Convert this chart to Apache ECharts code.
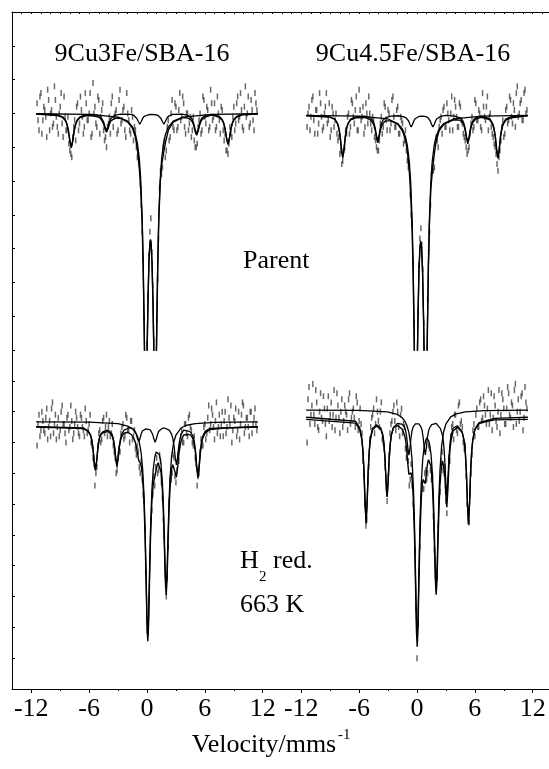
<!DOCTYPE html>
<html><head><meta charset="utf-8">
<script src="https://cdn.jsdelivr.net/npm/echarts@6/dist/echarts.min.js"></script>
<style>html,body{margin:0;padding:0;background:#fff}#c{width:549px;height:769px}</style>
</head><body><div id="c"></div><script>
const FONT = '"Liberation Serif","Times New Roman",serif';

// velocity channels (mm/s): even and odd sets
const channelVelocity = [-11.4,-11.2,-11.0,-10.8,-10.6,-10.4,-10.2,-10.0,-9.8,-9.6,-9.4,-9.2,-9.0,-8.8,-8.6,-8.4,-8.2,-8.0,-7.8,-7.6,-7.4,-7.2,-7.0,-6.8,-6.6,-6.4,-6.2,-6.0,-5.8,-5.6,-5.4,-5.2,-5.0,-4.8,-4.6,-4.4,-4.2,-4.0,-3.8,-3.6,-3.4,-3.2,-3.0,-2.8,-2.6,-2.4,-2.2,-2.0,-1.8,-1.6,-1.4,-1.2,-1.0,-0.8,-0.6,-0.4,-0.2,0.0,0.2,0.4,0.6,0.8,1.0,1.2,1.4,1.6,1.8,2.0,2.2,2.4,2.6,2.8,3.0,3.2,3.4,3.6,3.8,4.0,4.2,4.4,4.6,4.8,5.0,5.2,5.4,5.6,5.8,6.0,6.2,6.4,6.6,6.8,7.0,7.2,7.4,7.6,7.8,8.0,8.2,8.4,8.6,8.8,9.0,9.2,9.4,9.6,9.8,10.0,10.2,10.4,10.6,10.8,11.0,11.2,11.4];
const channelVelocityOdd = [-11.3,-11.1,-10.9,-10.7,-10.5,-10.3,-10.1,-9.9,-9.7,-9.5,-9.3,-9.1,-8.9,-8.7,-8.5,-8.3,-8.1,-7.9,-7.7,-7.5,-7.3,-7.1,-6.9,-6.7,-6.5,-6.3,-6.1,-5.9,-5.7,-5.5,-5.3,-5.1,-4.9,-4.7,-4.5,-4.3,-4.1,-3.9,-3.7,-3.5,-3.3,-3.1,-2.9,-2.7,-2.5,-2.3,-2.1,-1.9,-1.7,-1.5,-1.3,-1.1,-0.9,-0.7,-0.5,-0.3,-0.1,0.1,0.3,0.5,0.7,0.9,1.1,1.3,1.5,1.7,1.9,2.1,2.3,2.5,2.7,2.9,3.1,3.3,3.5,3.7,3.9,4.1,4.3,4.5,4.7,4.9,5.1,5.3,5.5,5.7,5.9,6.1,6.3,6.5,6.7,6.9,7.1,7.3,7.5,7.7,7.9,8.1,8.3,8.5,8.7,8.9,9.1,9.3,9.5,9.7,9.9,10.1,10.3,10.5,10.7,10.9,11.1,11.3];

// measured transmission (arbitrary units)
const ulCounts = [7.3,6.5,7.6,6.8,7.1,6.3,7.4,7.0,6.6,7.8,6.9,6.4,7.2,6.7,7.5,6.5,6.9,5.9,5.7,6.6,6.2,7.3,6.7,7.1,6.4,7.6,6.8,7.0,6.3,7.9,7.2,6.6,7.4,6.9,7.3,6.2,6.0,6.7,6.4,7.5,6.9,7.1,6.5,7.7,6.8,7.2,6.3,7.0,6.5,7.1,6.2,6.5,5.7,5.5,4.3,2.7,-0.5,0.2,2.8,3.9,1.9,-0.4,0.9,3.3,5.3,5.4,6.2,5.9,6.8,6.3,7.4,6.5,7.2,6.6,7.6,6.9,7.3,6.4,7.0,6.7,6.3,6.9,6.0,6.1,6.8,6.4,7.5,6.9,7.2,6.5,7.7,6.8,7.3,6.6,7.0,6.4,7.1,6.2,5.9,5.8,6.6,6.3,7.2,6.7,7.5,6.9,7.1,6.5,7.8,7.0,6.6,7.4,6.8,7.6,7.1];
const ulCountsOdd = [6.8,7.5,6.4,7.2,6.9,7.7,6.5,7.1,6.7,7.4,6.6,7.0,7.6,6.3,6.9,6.5,6.1,5.8,6.3,6.8,7.2,6.5,7.5,6.9,6.6,7.3,6.8,7.6,6.4,7.0,6.7,7.5,6.4,7.1,6.5,6.3,6.6,6.9,7.3,6.6,7.0,6.4,7.4,6.7,7.1,6.5,7.6,6.8,6.4,6.9,6.6,6.0,5.8,4.9,3.5,1.0,-1.0,1.6,3.5,2.9,0.3,-1.0,2.1,4.8,5.2,6.0,5.7,6.6,6.2,7.0,6.6,7.3,6.5,7.1,6.8,7.5,6.6,7.0,6.5,6.9,6.5,6.2,6.0,6.6,7.0,6.5,7.4,6.7,7.1,6.6,7.3,6.9,6.5,7.5,6.8,7.2,6.5,6.4,5.9,6.1,6.4,6.9,6.5,7.3,6.8,7.6,6.6,7.2,6.9,7.5,6.7,7.1,6.5,7.3];
const urCounts = [6.6,7.2,6.9,7.5,6.4,7.1,6.7,7.3,6.5,7.0,7.6,6.8,6.3,7.2,6.6,7.0,6.2,5.8,5.5,5.9,6.5,6.9,6.4,7.4,6.9,7.1,6.5,7.7,6.8,7.2,6.6,7.0,7.5,6.7,6.9,6.3,6.0,5.9,6.7,6.4,7.3,6.8,7.1,6.5,7.4,6.9,6.6,7.2,6.4,6.8,6.1,6.5,5.6,5.5,4.0,2.6,-0.8,-0.5,2.5,3.6,2.4,-0.3,-0.4,2.9,4.3,5.4,5.4,6.3,6.0,6.8,6.4,7.2,6.6,7.0,6.5,7.5,6.9,7.2,6.6,7.3,6.8,6.4,6.2,5.8,6.0,6.7,6.5,7.4,6.8,7.1,6.6,7.6,6.9,7.2,6.5,7.0,6.4,6.1,5.8,5.3,5.9,6.6,6.3,7.1,6.7,7.5,6.9,7.3,6.6,7.8,7.0,7.4,6.8,7.7,7.1];
const urCountsOdd = [7.0,6.5,7.4,6.8,7.1,6.4,7.6,6.9,6.6,7.2,6.7,7.3,6.5,7.0,6.8,6.4,6.3,5.9,5.6,6.0,6.4,7.0,6.6,7.3,6.7,7.5,6.5,7.1,6.9,6.4,7.3,6.7,7.0,6.5,6.8,6.2,5.9,6.2,6.9,6.6,7.2,6.5,7.0,6.7,7.5,6.6,7.1,6.4,6.9,6.7,6.2,5.9,5.4,4.6,3.7,0.8,-1.5,1.1,3.3,3.1,0.8,-1.5,1.5,3.5,5.2,5.3,6.1,6.2,6.6,6.9,7.1,6.6,7.3,6.8,7.0,6.5,7.4,6.9,6.6,7.2,6.7,6.3,6.0,5.9,6.4,6.9,6.6,7.3,6.8,7.0,6.5,7.2,6.8,7.5,6.9,6.6,6.3,6.0,5.5,5.7,6.2,6.8,6.4,7.2,6.8,7.4,6.7,7.1,7.6,6.9,7.3,6.8,7.6,7.0];
const llCounts = [7.9,8.9,8.4,8.7,8.3,9.1,8.5,8.2,9.3,8.6,8.1,8.8,8.4,9.2,8.6,8.0,8.9,8.5,8.7,8.3,9.0,8.5,8.2,8.8,8.4,9.1,8.3,8.6,8.0,7.5,6.6,7.2,8.3,8.0,8.7,8.3,8.9,8.5,8.2,8.6,7.7,7.0,7.6,7.7,8.5,8.1,8.9,8.4,8.0,8.7,8.2,7.8,7.9,7.2,7.4,6.3,5.2,1.9,2.9,5.5,6.3,6.6,7.5,7.1,7.4,6.2,4.9,3.0,4.6,6.8,7.0,7.5,6.7,7.6,7.9,8.4,8.0,8.6,8.2,8.9,8.4,7.9,7.5,6.6,7.0,8.1,7.9,8.6,8.3,9.2,8.6,8.9,8.1,9.3,8.5,8.2,9.0,8.7,8.3,9.4,8.6,8.0,8.8,9.1,8.4,8.1,8.9,9.2,8.5,8.8,8.2,9.0,8.6,9.1,8.4];
const llCountsOdd = [8.6,8.2,9.0,8.4,8.8,8.1,8.7,9.1,8.3,8.9,8.5,8.2,9.0,8.6,8.3,8.8,8.4,9.2,8.1,8.6,8.8,8.3,8.9,8.5,8.2,8.7,8.4,8.9,7.9,7.3,7.0,7.9,8.4,8.1,8.8,8.5,8.2,8.7,8.3,7.9,7.5,7.1,7.8,8.3,8.6,8.2,8.8,8.4,8.7,8.1,8.4,7.6,7.7,7.0,6.8,6.1,3.8,1.8,4.3,5.8,6.9,7.2,7.0,7.6,6.7,5.5,3.7,3.6,6.1,6.8,7.6,6.9,7.1,7.4,8.2,8.0,8.6,8.3,8.8,8.5,8.0,8.2,7.3,6.9,7.7,7.9,8.5,8.1,8.8,8.4,9.1,8.5,8.7,8.3,8.9,8.6,8.2,9.0,8.5,8.8,9.2,8.4,8.7,8.2,9.0,8.6,9.3,8.3,8.8,8.5,9.0,8.3,8.8,8.6];
const lrCounts = [8.0,9.8,8.9,9.9,8.6,9.3,8.4,9.6,8.7,9.1,8.2,9.5,8.9,8.5,9.7,8.8,9.2,8.3,9.4,8.7,9.0,8.4,9.6,8.8,9.1,8.5,9.3,8.7,8.6,7.4,6.0,5.5,7.2,8.5,8.9,8.3,9.4,8.7,9.0,8.1,7.8,6.5,6.9,8.3,8.7,9.2,8.4,9.0,8.2,9.1,8.6,7.8,7.7,6.6,7.3,6.0,4.5,1.0,3.8,6.2,6.5,7.0,6.8,7.9,7.1,6.9,4.5,3.3,5.3,6.4,7.7,7.0,6.1,6.8,7.4,8.5,8.1,8.9,8.3,9.3,8.7,8.0,7.9,6.0,5.4,7.0,8.4,8.2,9.1,8.5,9.4,8.8,9.2,8.6,9.7,8.9,8.4,9.5,8.7,9.0,8.3,9.6,9.1,8.6,9.8,8.9,9.3,8.5,9.9,9.0,8.7,9.5,8.4,9.8,9.1];
const lrCountsOdd = [9.4,8.6,9.2,8.9,9.7,8.5,9.0,8.8,9.5,8.6,9.1,8.7,9.3,8.9,8.4,9.6,8.8,9.0,8.5,9.2,8.9,9.4,8.6,9.0,8.8,9.5,8.4,9.1,8.3,6.9,5.3,6.7,8.1,8.8,9.1,8.6,9.0,8.5,9.3,8.0,7.2,6.1,7.6,8.6,9.0,8.7,9.3,8.5,8.9,8.3,8.5,7.5,7.4,6.8,6.6,5.6,2.6,2.1,4.6,6.7,6.5,7.1,7.0,7.8,6.8,5.6,3.7,3.6,6.2,7.4,7.1,7.2,5.7,7.5,8.2,8.6,8.9,8.4,9.2,8.6,8.5,7.8,6.9,5.8,6.3,7.6,8.6,8.9,8.5,9.3,8.7,9.5,8.9,9.1,8.6,9.6,8.8,9.2,8.5,9.7,8.9,9.4,8.6,9.1,9.6,8.8,9.2,9.7,8.6,9.4,9.0,9.6,8.8,9.3];

// fitted curves [velocity, transmission]
const ulDoubletFit = [[-11.5,6.99],[-6,6.97],[-3,6.89],[-2,6.77],[-1.5,6.6],[-1.2,6.38],[-1,6.13],[-0.8,5.67],[-0.65,5.05],[-0.5,3.91],[-0.4,2.64],[-0.3,0.85],[-0.25,-0.13],[-0.13,-1.57],[0,-0.23],[0.05,0.64],[0.1,1.45],[0.2,2.61],[0.3,3.19],[0.36,3.27],[0.42,3.19],[0.52,2.61],[0.62,1.45],[0.67,0.64],[0.72,-0.23],[0.85,-1.57],[0.97,-0.13],[1.02,0.85],[1.12,2.64],[1.22,3.91],[1.37,5.05],[1.52,5.67],[1.72,6.13],[1.92,6.38],[2.22,6.6],[2.72,6.77],[3.72,6.89],[6.72,6.97],[11.5,6.99]];
const ulSextetFit = [[-11.5,6.99],[-9.35,6.96],[-8.75,6.9],[-8.45,6.8],[-8.3,6.69],[-8.15,6.5],[-8,6.2],[-7.85,6],[-7.7,6.2],[-7.55,6.5],[-7.4,6.69],[-7.25,6.8],[-6.95,6.9],[-6.35,6.96],[-5.7,6.97],[-5.1,6.95],[-4.8,6.9],[-4.65,6.85],[-4.5,6.75],[-4.35,6.6],[-4.2,6.5],[-4.05,6.6],[-3.9,6.75],[-3.75,6.85],[-3.6,6.9],[-3.3,6.95],[-2.7,6.98],[-1.65,6.97],[-1.35,6.94],[-1.2,6.91],[-1.05,6.85],[-0.9,6.76],[-0.75,6.68],[-0.6,6.76],[-0.45,6.85],[-0.3,6.91],[-0.15,6.94],[0.15,6.96],[0.5,6.97],[0.85,6.96],[1.15,6.94],[1.3,6.91],[1.45,6.85],[1.6,6.76],[1.75,6.68],[1.9,6.76],[2.05,6.85],[2.2,6.91],[2.35,6.94],[2.65,6.97],[3.65,6.98],[4.25,6.94],[4.55,6.88],[4.7,6.82],[4.85,6.7],[5,6.52],[5.15,6.4],[5.3,6.52],[5.45,6.7],[5.6,6.82],[5.75,6.88],[6.05,6.94],[6.65,6.97],[7.5,6.91],[7.8,6.82],[7.95,6.72],[8.1,6.55],[8.25,6.28],[8.4,6.1],[8.55,6.28],[8.7,6.55],[8.85,6.72],[9,6.82],[9.3,6.91],[9.9,6.97],[11.5,6.99]];
const ulTotalFit = [[-11.5,6.98],[-9.35,6.94],[-8.75,6.88],[-8.45,6.78],[-8.3,6.67],[-8.15,6.48],[-8,6.18],[-7.85,5.98],[-7.7,6.18],[-7.55,6.48],[-7.4,6.67],[-7.25,6.78],[-6.95,6.88],[-6.35,6.93],[-5.7,6.93],[-5.1,6.9],[-4.8,6.85],[-4.65,6.8],[-4.5,6.69],[-4.35,6.54],[-4.2,6.44],[-4.05,6.54],[-3.9,6.68],[-3.75,6.78],[-3.6,6.82],[-3.3,6.86],[-2.7,6.85],[-2,6.74],[-1.5,6.56],[-1.2,6.29],[-1,5.95],[-0.8,5.38],[-0.65,4.78],[-0.5,3.73],[-0.4,2.51],[-0.3,0.76],[-0.25,-0.2],[-0.13,-1.6],[0,-0.3],[0.05,0.6],[0.1,1.4],[0.2,2.58],[0.3,3.15],[0.36,3.24],[0.42,3.16],[0.52,2.57],[0.62,1.41],[0.67,0.6],[0.72,-0.27],[0.85,-1.6],[0.97,-0.2],[1.02,0.81],[1.12,2.58],[1.22,3.84],[1.37,4.94],[1.52,5.48],[1.72,5.83],[1.92,6.15],[2.22,6.51],[2.72,6.74],[3.72,6.88],[4.25,6.86],[4.55,6.81],[4.7,6.75],[4.85,6.64],[5,6.46],[5.15,6.35],[5.3,6.47],[5.45,6.65],[5.6,6.77],[5.75,6.83],[6.05,6.89],[6.65,6.95],[6.9,6.94],[7.5,6.88],[7.8,6.8],[7.95,6.7],[8.1,6.53],[8.25,6.26],[8.4,6.08],[8.55,6.26],[8.7,6.53],[8.85,6.7],[9,6.8],[9.3,6.89],[9.9,6.96],[11.5,6.98]];

const urDoubletFit = [[-11.5,6.94],[-6,6.92],[-3,6.835],[-2,6.7],[-1.5,6.53],[-1.2,6.31],[-1,6.05],[-0.8,5.58],[-0.65,4.95],[-0.5,3.79],[-0.4,2.5],[-0.3,0.65],[-0.25,-0.39],[-0.12,-2.1],[0,-0.85],[0.05,0.08],[0.1,0.97],[0.2,2.32],[0.3,3.03],[0.39,3.23],[0.48,3.03],[0.58,2.32],[0.68,0.97],[0.73,0.08],[0.78,-0.85],[0.9,-2.1],[1.03,-0.39],[1.08,0.65],[1.18,2.5],[1.28,3.79],[1.43,4.95],[1.58,5.58],[1.78,6.05],[1.98,6.31],[2.28,6.53],[2.78,6.7],[3.78,6.835],[6.78,6.92],[11.5,6.94]];
const urSextetFit = [[-11.5,6.94],[-9.05,6.9],[-8.51,6.83],[-8.24,6.7],[-8.1,6.56],[-7.97,6.33],[-7.835,5.95],[-7.7,5.7],[-7.565,5.95],[-7.43,6.33],[-7.3,6.56],[-7.16,6.7],[-6.89,6.83],[-6.35,6.9],[-5.42,6.92],[-4.88,6.875],[-4.61,6.8],[-4.47,6.715],[-4.34,6.575],[-4.205,6.35],[-4.07,6.2],[-3.935,6.35],[-3.8,6.575],[-3.67,6.715],[-3.53,6.8],[-3.26,6.875],[-2.72,6.92],[-1.95,6.93],[-1.41,6.905],[-1.14,6.87],[-1,6.84],[-0.87,6.775],[-0.735,6.67],[-0.6,6.6],[-0.465,6.67],[-0.33,6.775],[-0.2,6.84],[-0.06,6.88],[0.21,6.91],[0.5,6.92],[0.84,6.91],[1.11,6.88],[1.25,6.84],[1.38,6.775],[1.515,6.67],[1.65,6.6],[1.785,6.67],[1.92,6.775],[2.05,6.84],[2.19,6.88],[2.46,6.915],[3.0,6.94],[3.92,6.92],[4.46,6.87],[4.73,6.79],[4.87,6.7],[5,6.55],[5.135,6.31],[5.27,6.15],[5.405,6.31],[5.54,6.55],[5.67,6.7],[5.81,6.79],[6.08,6.87],[6.62,6.92],[7.04,6.9],[7.58,6.83],[7.85,6.7],[7.99,6.56],[8.12,6.33],[8.255,5.95],[8.39,5.7],[8.525,5.95],[8.66,6.33],[8.79,6.56],[8.93,6.7],[9.2,6.83],[9.74,6.9],[11.5,6.94]];
const urTotalFit = [[-11.5,6.93],[-9.05,6.89],[-8.51,6.82],[-8.24,6.69],[-8.1,6.55],[-7.97,6.32],[-7.835,5.94],[-7.7,5.69],[-7.565,5.94],[-7.43,6.32],[-7.3,6.55],[-7.16,6.69],[-6.89,6.81],[-6.35,6.87],[-5.42,6.88],[-4.88,6.82],[-4.61,6.74],[-4.47,6.65],[-4.34,6.51],[-4.205,6.28],[-4.07,6.13],[-3.935,6.28],[-3.8,6.5],[-3.67,6.63],[-3.53,6.71],[-3.26,6.78],[-2.72,6.78],[-2,6.68],[-1.5,6.48],[-1.2,6.23],[-1,5.89],[-0.8,5.3],[-0.65,4.59],[-0.5,3.48],[-0.4,2.27],[-0.3,0.43],[-0.25,-0.5],[-0.12,-2.3],[0,-1],[0.05,-0.05],[0.1,0.92],[0.2,2.28],[0.3,3],[0.39,3.19],[0.48,2.99],[0.58,2.27],[0.68,0.9],[0.73,0],[0.78,-0.9],[0.9,-2.2],[1.03,-0.48],[1.08,0.58],[1.18,2.41],[1.28,3.67],[1.43,4.74],[1.58,5.25],[1.65,5.43],[1.78,5.77],[1.98,6.17],[2.28,6.48],[2.78,6.68],[3.78,6.81],[4.46,6.8],[4.73,6.73],[4.87,6.64],[5,6.49],[5.135,6.26],[5.27,6.1],[5.405,6.26],[5.54,6.5],[5.67,6.65],[5.81,6.74],[6.08,6.83],[6.62,6.88],[7.04,6.87],[7.58,6.8],[7.85,6.67],[7.99,6.53],[8.12,6.3],[8.255,5.92],[8.39,5.67],[8.525,5.92],[8.66,6.3],[8.79,6.53],[8.93,6.67],[9.2,6.8],[9.74,6.87],[11.5,6.93]];

const llSextetFit = [[-11.5,8.51],[-6.6,8.47],[-6.1,8.38],[-5.85,8.24],[-5.725,8.09],[-5.6,7.81],[-5.475,7.39],[-5.35,7.11],[-5.225,7.39],[-5.1,7.81],[-4.975,8.09],[-4.85,8.24],[-4.6,8.34],[-4.1,8.39],[-3.87,8.36],[-3.62,8.27],[-3.495,8.13],[-3.37,7.9],[-3.245,7.52],[-3.12,7.27],[-2.995,7.52],[-2.87,7.9],[-2.745,8.13],[-2.62,8.27],[-2.37,8.4],[-1.87,8.47],[-1.61,8.47],[-1.36,8.42],[-1.235,8.37],[-1.11,8.27],[-0.985,8.12],[-0.86,8.02],[-0.735,8.12],[-0.61,8.27],[-0.485,8.37],[-0.36,8.42],[-0.11,8.44],[0.09,8.44],[0.34,8.41],[0.465,8.36],[0.59,8.26],[0.715,8.11],[0.84,8.01],[0.965,8.11],[1.09,8.26],[1.215,8.36],[1.34,8.41],[1.59,8.46],[1.8,8.47],[2.3,8.4],[2.55,8.27],[2.675,8.13],[2.8,7.9],[2.925,7.52],[3.05,7.27],[3.175,7.52],[3.3,7.9],[3.425,8.13],[3.55,8.27],[3.8,8.4],[4.3,8.37],[4.53,8.33],[4.78,8.2],[4.905,8.03],[5.03,7.72],[5.155,7.24],[5.28,6.92],[5.405,7.24],[5.53,7.72],[5.655,8.03],[5.78,8.2],[6.03,8.36],[6.53,8.46],[11.5,8.51]];
const llDoubletFit = [[-11.5,8.67],[-6,8.66],[-3,8.61],[-2,8.53],[-1.5,8.44],[-1.2,8.33],[-1,8.21],[-0.8,8.01],[-0.6,7.64],[-0.45,7.13],[-0.3,6.22],[-0.2,5.21],[-0.1,3.8],[0,2.32],[0.08,1.8],[0.16,2.3],[0.26,3.76],[0.36,5.14],[0.5,6.42],[0.65,7.14],[0.8,7.52],[0.95,7.69],[1.05,7.73],[1.15,7.72],[1.3,7.6],[1.45,7.3],[1.6,6.68],[1.7,5.96],[1.8,4.91],[1.9,3.77],[1.99,3.3],[2.08,3.8],[2.18,4.97],[2.28,6.04],[2.38,6.8],[2.55,7.55],[2.75,7.98],[3,8.24],[3.5,8.46],[4,8.55],[5,8.61],[7,8.65],[11.5,8.67]];
const llTotalFit = [[-11.5,8.5],[-6.6,8.45],[-6.1,8.36],[-5.85,8.22],[-5.725,8.07],[-5.6,7.79],[-5.475,7.37],[-5.35,7.09],[-5.225,7.37],[-5.1,7.79],[-4.975,8.07],[-4.85,8.22],[-4.6,8.31],[-4.1,8.35],[-3.87,8.32],[-3.62,8.22],[-3.495,8.08],[-3.37,7.85],[-3.245,7.47],[-3.12,7.21],[-2.995,7.46],[-2.87,7.84],[-2.745,8.06],[-2.62,8.19],[-2.37,8.3],[-2,8.33],[-1.61,8.25],[-1.36,8.12],[-1.235,8.03],[-1.11,7.87],[-0.985,7.64],[-0.86,7.42],[-0.735,7.35],[-0.61,7.25],[-0.485,6.96],[-0.36,6.39],[-0.3,5.97],[-0.2,4.97],[-0.1,3.56],[0,2.08],[0.08,1.55],[0.16,2.04],[0.26,3.48],[0.36,4.85],[0.5,6.07],[0.65,6.66],[0.8,6.87],[0.95,7.11],[1.05,7.26],[1.15,7.34],[1.3,7.3],[1.45,7.04],[1.6,6.43],[1.7,5.7],[1.8,4.64],[1.9,3.5],[1.99,3.05],[2.08,3.54],[2.18,4.7],[2.28,5.76],[2.38,6.48],[2.55,7.14],[2.675,7.28],[2.8,7.3],[2.925,7.02],[3.05,6.87],[3.175,7.18],[3.3,7.61],[3.425,7.88],[3.55,8.06],[3.8,8.24],[4.3,8.26],[4.53,8.24],[4.78,8.12],[4.905,7.95],[5.03,7.65],[5.155,7.17],[5.28,6.85],[5.405,7.17],[5.53,7.65],[5.655,7.96],[5.78,8.14],[6.03,8.31],[6.53,8.42],[8,8.47],[11.5,8.5]];

const lrSextetFit = [[-11.5,8.75],[-6.38,8.63],[-5.94,8.42],[-5.72,8.08],[-5.61,7.71],[-5.5,7.06],[-5.39,6.04],[-5.28,5.36],[-5.17,6.04],[-5.06,7.06],[-4.95,7.71],[-4.84,8.08],[-4.62,8.4],[-4.2,8.53],[-3.76,8.44],[-3.54,8.21],[-3.43,7.95],[-3.32,7.47],[-3.21,6.73],[-3.1,6.23],[-2.99,6.73],[-2.88,7.48],[-2.77,7.97],[-2.66,8.24],[-2.44,8.49],[-2,8.62],[-1.5,8.59],[-1.28,8.49],[-1.17,8.37],[-1.06,8.15],[-0.95,7.82],[-0.84,7.59],[-0.73,7.82],[-0.62,8.16],[-0.51,8.39],[-0.4,8.5],[-0.18,8.6],[0.01,8.6],[0.2,8.6],[0.42,8.5],[0.53,8.39],[0.64,8.16],[0.75,7.83],[0.86,7.6],[0.97,7.83],[1.08,8.16],[1.19,8.36],[1.3,8.47],[1.52,8.58],[1.99,8.62],[2.43,8.45],[2.65,8.22],[2.76,7.96],[2.87,7.49],[2.98,6.75],[3.09,6.25],[3.2,6.75],[3.31,7.49],[3.42,7.96],[3.53,8.22],[3.75,8.47],[4.2,8.54],[4.68,8.35],[4.9,8.04],[5.01,7.68],[5.12,7.04],[5.23,6.02],[5.34,5.35],[5.45,6.03],[5.56,7.05],[5.67,7.7],[5.78,8.07],[6,8.41],[6.44,8.62],[8,8.73],[11.5,8.75]];
const lrDoubletFit = [[-11.5,9.05],[-6.06,9.04],[-3.06,8.99],[-2.06,8.91],[-1.56,8.81],[-1.26,8.69],[-1.06,8.56],[-0.86,8.35],[-0.66,7.96],[-0.51,7.42],[-0.36,6.45],[-0.26,5.37],[-0.16,3.87],[-0.06,2.29],[0.02,1.75],[0.1,2.27],[0.2,3.83],[0.3,5.31],[0.44,6.67],[0.59,7.44],[0.74,7.85],[0.89,8.05],[1,8.15],[1.1,8.11],[1.2,8.06],[1.3,7.95],[1.45,7.63],[1.6,6.98],[1.7,6.21],[1.8,5.12],[1.9,3.92],[1.99,3.42],[2.08,3.94],[2.18,5.17],[2.28,6.29],[2.38,7.09],[2.55,7.87],[2.75,8.33],[3,8.6],[3.5,8.83],[4,8.92],[5,8.99],[7,9.03],[11.5,9.05]];
const lrTotalFit = [[-11.5,8.82],[-6.38,8.69],[-5.94,8.47],[-5.72,8.13],[-5.61,7.76],[-5.5,7.11],[-5.39,6.09],[-5.28,5.41],[-5.17,6.09],[-5.06,7.1],[-4.95,7.75],[-4.84,8.12],[-4.62,8.45],[-4.2,8.57],[-3.76,8.47],[-3.54,8.24],[-3.43,7.98],[-3.32,7.49],[-3.21,6.75],[-3.1,6.25],[-2.99,6.74],[-2.88,7.49],[-2.77,7.97],[-2.66,8.24],[-2.44,8.48],[-2,8.55],[-1.5,8.42],[-1.28,8.22],[-1.17,8.04],[-1.06,7.73],[-0.95,7.3],[-0.84,6.96],[-0.73,6.97],[-0.62,7.02],[-0.51,6.83],[-0.4,6.29],[-0.26,4.96],[-0.16,3.49],[-0.06,1.91],[0.02,1.37],[0.1,1.9],[0.2,3.45],[0.3,4.9],[0.44,6.17],[0.53,6.6],[0.64,6.8],[0.75,6.73],[0.86,6.66],[0.97,6.99],[1.08,7.29],[1.19,7.44],[1.3,7.44],[1.45,7.23],[1.6,6.61],[1.7,5.84],[1.8,4.75],[1.9,3.55],[1.99,3.06],[2.08,3.56],[2.18,4.77],[2.28,5.87],[2.38,6.62],[2.55,7.27],[2.65,7.4],[2.76,7.36],[2.87,7.02],[2.98,6.33],[3.09,5.9],[3.2,6.45],[3.31,7.25],[3.42,7.77],[3.53,8.07],[3.75,8.38],[4.2,8.49],[4.68,8.33],[4.9,8.03],[5.01,7.67],[5.12,7.03],[5.23,6.01],[5.34,5.34],[5.45,6.02],[5.56,7.05],[5.67,7.71],[5.78,8.08],[6,8.43],[6.44,8.64],[8,8.78],[11.5,8.82]];

const velocityTicks = [-12, -6, 0, 6, 12];
const velocityMinorTicks = [-9, -3, 3, 9];
const panelTitles = ['9Cu3Fe/SBA-16', '9Cu4.5Fe/SBA-16'];

const chart = echarts.init(document.getElementById('c'), null, {renderer: 'canvas'});
const AXLINE = {color: '#000', width: 1};
const gridBase = {containLabel: false, outerBoundsMode: 'none', show: false};
const grids = [
  {left: 12, top: 12, width: 270, height: 338},
  {left: 282, top: 12, width: 270, height: 338},
  {left: 12, top: 350, width: 270, height: 339},
  {left: 282, top: 350, width: 270, height: 339},
  {left: 12, top: 350, width: 270, height: 339},
  {left: 282, top: 350, width: 270, height: 339}
].map(g => Object.assign({}, gridBase, g));

function hiddenX(g) { return {type: 'value', gridIndex: g, min: -14, max: 14, show: false}; }
function bottomX(g) {
  return {type: 'value', gridIndex: g, min: -14, max: 14, position: 'bottom',
    axisLine: {show: true, onZero: false, lineStyle: AXLINE},
    axisTick: {show: true, inside: false, length: 4, customValues: velocityTicks, lineStyle: AXLINE},
    axisLabel: {show: true, customValues: velocityTicks, margin: 7, fontFamily: FONT, fontSize: 26, color: '#000'},
    splitLine: {show: false}};
}
function minorX(g) {
  return {type: 'value', gridIndex: g, min: -14, max: 14, position: 'bottom',
    axisLine: {show: false},
    axisTick: {show: true, inside: false, length: 2, customValues: velocityMinorTicks, lineStyle: AXLINE},
    axisLabel: {show: false}, splitLine: {show: false}};
}
function topX(g) {
  return {type: 'value', gridIndex: g, min: -14, max: 14, interval: 1, position: 'top',
    axisLine: {show: true, onZero: false, lineStyle: AXLINE},
    axisTick: {show: true, inside: true, length: 2, lineStyle: AXLINE},
    axisLabel: {show: false}, splitLine: {show: false}};
}
function leftY(g, max) {
  return {type: 'value', gridIndex: g, min: 0, max: max, interval: 1, position: 'left',
    axisLine: {show: true, onZero: false, lineStyle: AXLINE},
    axisTick: {show: true, inside: true, length: 3, lineStyle: AXLINE},
    axisLabel: {show: false}, splitLine: {show: false}};
}
function hiddenY(g, max) { return {type: 'value', gridIndex: g, min: 0, max: max, show: false}; }

function pairs(vs, ys) { return vs.map((v, i) => [v, ys[i]]); }
function dataSeries(idx, ysEven, ysOdd) {
  return {type: 'scatter', xAxisIndex: idx, yAxisIndex: idx,
    data: pairs(channelVelocity, ysEven).concat(pairs(channelVelocityOdd, ysOdd)), clip: true,
    symbol: 'rect', symbolSize: [1.5, 6], itemStyle: {color: '#444'}, silent: true, z: 2};
}
function fitSeries(idx, pts, w) {
  return {type: 'line', xAxisIndex: idx, yAxisIndex: idx, data: pts, clip: true,
    showSymbol: false, symbol: 'none', smooth: false, silent: true,
    lineStyle: {color: '#000', width: w}, z: 3};
}

const txt = (x, y, text, size, align) => ({type: 'text', x: x, y: y, silent: true,
  style: {text: text, font: size + 'px ' + FONT, fill: '#000', align: align || 'left', verticalAlign: 'middle'}});

chart.setOption({
  animation: false,
  backgroundColor: '#fff',
  grid: grids,
  xAxis: [hiddenX(0), hiddenX(1), bottomX(2), bottomX(3), minorX(4), minorX(5), topX(0), topX(1)],
  yAxis: [leftY(0, 10), hiddenY(1, 10), leftY(2, 11), hiddenY(3, 11), hiddenY(4, 11), hiddenY(5, 11)],
  series: [
    dataSeries(0, ulCounts, ulCountsOdd), fitSeries(0, ulSextetFit, 1.3), fitSeries(0, ulDoubletFit, 1.3), fitSeries(0, ulTotalFit, 1.4),
    dataSeries(1, urCounts, urCountsOdd), fitSeries(1, urSextetFit, 1.3), fitSeries(1, urDoubletFit, 1.3), fitSeries(1, urTotalFit, 1.4),
    dataSeries(2, llCounts, llCountsOdd), fitSeries(2, llSextetFit, 1.3), fitSeries(2, llDoubletFit, 1.3), fitSeries(2, llTotalFit, 1.4),
    dataSeries(3, lrCounts, lrCountsOdd), fitSeries(3, lrSextetFit, 1.3), fitSeries(3, lrDoubletFit, 1.3), fitSeries(3, lrTotalFit, 1.4)
  ],
  graphic: [
    txt(142, 54, panelTitles[0], 26, 'center'),
    txt(413, 54, panelTitles[1], 26, 'center'),
    txt(243, 261, 'Parent', 26),
    txt(240, 561, 'H', 26),
    txt(259, 577, '2', 15),
    txt(273, 561, 'red.', 26),
    txt(240, 605, '663 K', 26),
    txt(264, 745, 'Velocity/mms', 26, 'center'),
    txt(338, 735, '-1', 15)
  ]
});
</script></body></html>
